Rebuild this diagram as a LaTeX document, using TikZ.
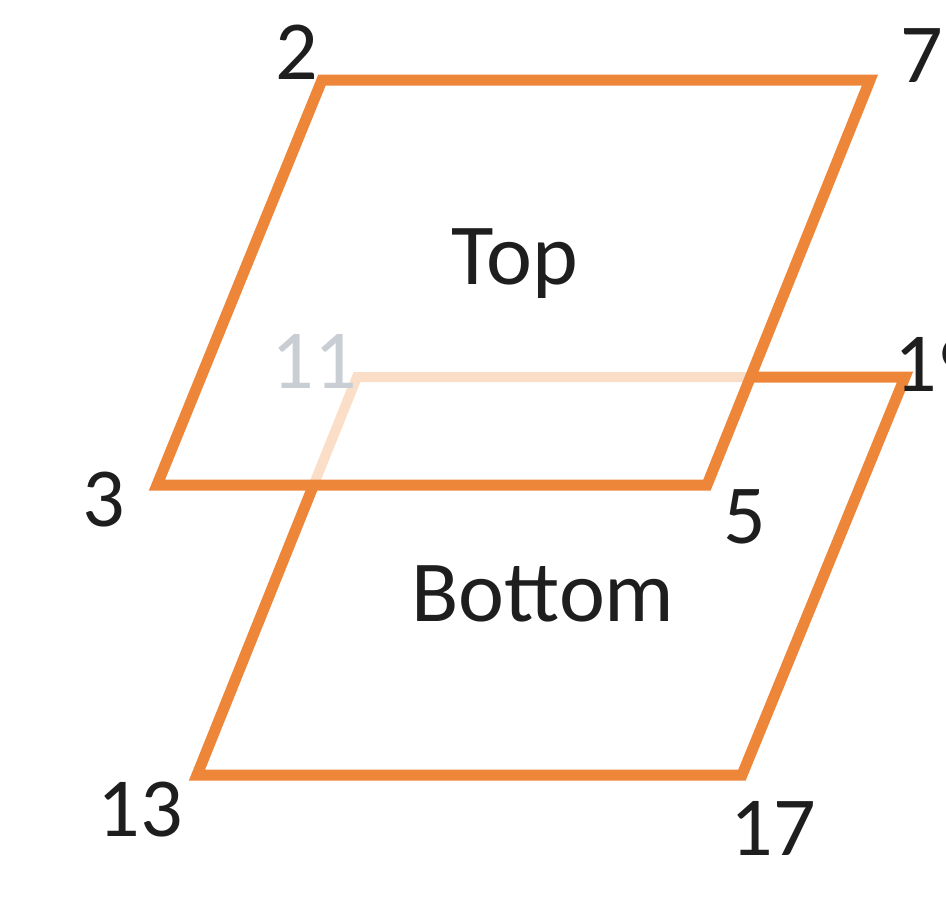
\documentclass[tikz,border=0pt]{standalone}
\usepackage{fontspec}
\setmainfont{Carlito}
\definecolor{edgeorange}{RGB}{238,134,58}
\definecolor{fadeorange}{RGB}{250,222,200}
\definecolor{fadegray}{RGB}{200,206,212}
\definecolor{labelink}{RGB}{30,30,30}
\begin{document}
\begin{tikzpicture}[x=1pt,y=-1pt,
  edge/.style={draw=edgeorange,line width=11pt,line join=miter},
  hidden/.style={draw=fadeorange,line width=10pt},
  lbl/.style={font=\fontsize{84}{90}\selectfont,text=labelink,inner sep=0pt},
  ttl/.style={font=\fontsize{87}{92}\selectfont,text=labelink,inner sep=0pt}]
\useasboundingbox (0,0) rectangle (946,903);
\clip (0,0) rectangle (946,903);
% corners
\coordinate (p2) at (322,80);
\coordinate (p7) at (870,80);
\coordinate (p5) at (707,485);
\coordinate (p3) at (157,485);
\coordinate (p11) at (357,377);
\coordinate (p19) at (905,377);
\coordinate (p17) at (742,775);
\coordinate (p13) at (197,775);
\coordinate (cA) at (intersection of p11--p19 and p7--p5);
\coordinate (cB) at (intersection of p11--p13 and p3--p5);
% hidden parts of bottom
\draw[hidden] (cA) -- (p11) -- (cB);
% top plane
\draw[edge] (p2) -- (p7) -- (p5) -- (p3) -- cycle;
% visible parts of bottom
\draw[edge] (cA) -- (p19) -- (p17) -- (p13) -- (cB);
% labels
\node[lbl] (l2) at (297,52) {2};
\node[lbl] (l7) at (922,56) {7};
\node[lbl] (l3) at (104,500) {3};
\node[lbl] (l5) at (745,517) {5};
\node[lbl,text=fadegray] (l11) at (314,361) {11};
\node[lbl] (l19) at (937,364) {19};
\node[lbl] (l13) at (140,810) {13};
\node[lbl] (l17) at (773,828) {17};
\node[ttl] (top) at (515,264) {Top};
\node[ttl] (bottom) at (543,594) {Bottom};
\end{tikzpicture}
\end{document}
